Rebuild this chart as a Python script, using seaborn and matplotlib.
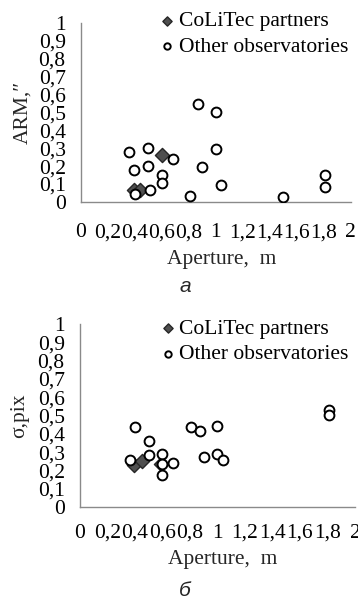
import matplotlib
matplotlib.use("Agg")
import matplotlib.pyplot as plt
import numpy as np
import pandas as pd
import seaborn as sns
from matplotlib.ticker import FuncFormatter, MultipleLocator

# panel a: ARM, arcsec
arm_partner_x = [0.39, 0.44, 0.6]
arm_partner_y = [0.067, 0.067, 0.26]
arm_other_x = [0.36, 0.39, 0.40, 0.50, 0.50, 0.51, 0.60, 0.60, 0.68, 0.81,
               0.87, 0.90, 1.00, 1.00, 1.04, 1.50, 1.81, 1.81]
arm_other_y = [0.28, 0.18, 0.045, 0.30, 0.20, 0.066, 0.15, 0.107, 0.237, 0.033,
               0.55, 0.197, 0.505, 0.295, 0.092, 0.026, 0.151, 0.083]

# panel b: sigma, pix
sig_partner_x = [0.39, 0.45, 0.59]
sig_partner_y = [0.23, 0.252, 0.235]
sig_other_x = [0.36, 0.40, 0.50, 0.50, 0.60, 0.60, 0.60, 0.68, 0.81, 0.87,
               0.90, 1.00, 1.00, 1.04, 1.81, 1.81]
sig_other_y = [0.255, 0.435, 0.363, 0.284, 0.292, 0.238, 0.176, 0.241, 0.435, 0.413,
               0.272, 0.442, 0.291, 0.255, 0.531, 0.502]

series_names = ["CoLiTec partners", "Other observatories"]
x_label = "Aperture,  m"
y_labels = ["ARM,\u2033", "\u03c3,pix"]
panel_letters = ["\u0430", "\u0431"]

sns.set_style("white")
plt.rcParams["font.family"] = ["Liberation Serif", "DejaVu Serif"]

FS = 15.5
AXIS_GREY = "#8a8a8a"


def comma_fmt(v, _pos):
    return f"{v:g}".replace(".", ",")


def draw_panel(ax, px, py, ox, oy, ylabel, legend_y, xpad):
    df = pd.DataFrame(
        {
            "x": list(px) + list(ox),
            "y": list(py) + list(oy),
            "group": [series_names[0]] * len(px) + [series_names[1]] * len(ox),
        }
    )
    sns.scatterplot(
        data=df[df["group"] == series_names[0]], x="x", y="y", ax=ax,
        marker="D", s=52, color="#4f4f4f", edgecolor="#262626", linewidth=1.0,
        label=series_names[0], zorder=3,
    )
    sns.scatterplot(
        data=df[df["group"] == series_names[1]], x="x", y="y", ax=ax,
        marker="o", s=50, facecolor="white", edgecolor="black", linewidth=1.4,
        label=series_names[1], zorder=4,
    )
    ax.set_xlim(0, 2)
    ax.set_ylim(0, 1)
    ax.xaxis.set_major_locator(MultipleLocator(0.2))
    ax.yaxis.set_major_locator(MultipleLocator(0.1))
    ax.xaxis.set_major_formatter(FuncFormatter(comma_fmt))
    ax.yaxis.set_major_formatter(FuncFormatter(comma_fmt))
    for side in ["top", "right"]:
        ax.spines[side].set_visible(False)
    for side in ["left", "bottom"]:
        ax.spines[side].set_color(AXIS_GREY)
        ax.spines[side].set_linewidth(1.0)
    ax.tick_params(axis="both", colors=AXIS_GREY, labelcolor="black",
                   labelsize=FS, length=5, width=1.0, direction="out")
    ax.tick_params(axis="x", pad=xpad)
    ax.tick_params(axis="y", pad=6)
    ax.set_xlabel(x_label, fontsize=FS)
    ax.set_ylabel(ylabel, fontsize=FS)
    ax.patch.set_alpha(0)
    leg = ax.legend(
        loc="upper left", bbox_to_anchor=(0.299, legend_y), frameon=False,
        fontsize=FS, handlelength=0.5, handletextpad=0.3, labelspacing=0.25,
        borderpad=0, borderaxespad=0, markerscale=0.65,
    )
    for t in leg.get_texts():
        t.set_color("black")
    return ax


fig = plt.figure(figsize=(3.58, 6.08), dpi=100)
ax1 = fig.add_axes([0.226, 0.668, 0.754, 0.294])
ax2 = fig.add_axes([0.2235, 0.166, 0.768, 0.301])

draw_panel(ax1, arm_partner_x, arm_partner_y, arm_other_x, arm_other_y,
           y_labels[0], 1.066, 10.5)
draw_panel(ax2, sig_partner_x, sig_partner_y, sig_other_x, sig_other_y,
           y_labels[1], 1.028, 7)
ax1.xaxis.set_label_coords(0.52, -0.272)
ax2.xaxis.set_label_coords(0.52, -0.237)
ax1.yaxis.set_label_coords(-0.181, 0.5)
ax2.yaxis.set_label_coords(-0.185, 0.5)

fig.text(185 / 358, 1 - 287 / 608, panel_letters[0], ha="center", va="center",
         fontsize=15, style="italic", family=["Liberation Sans", "DejaVu Sans"])
fig.text(185 / 358, 1 - 590 / 608, panel_letters[1], ha="center", va="center",
         fontsize=15, style="italic", family=["Liberation Sans", "DejaVu Sans"])

fig.savefig("out.png", dpi=100)
